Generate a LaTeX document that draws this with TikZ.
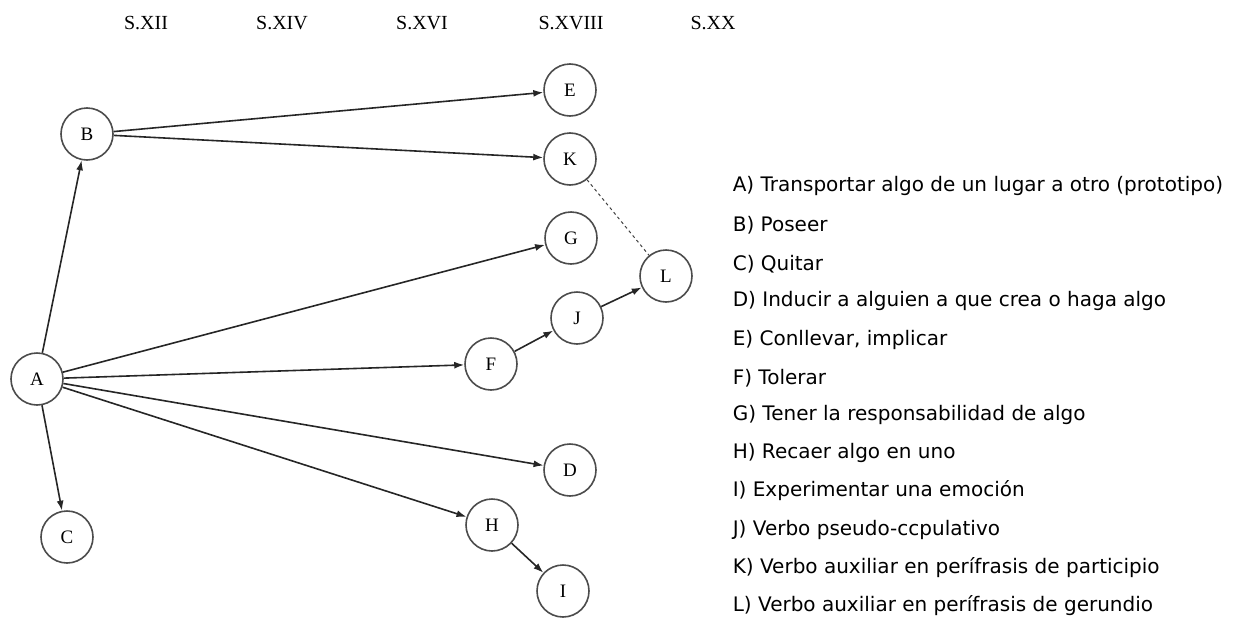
\documentclass[tikz,border=0pt]{standalone}
\usepackage{fontspec}
\setmainfont{Liberation Serif}
\newfontfamily\legendfont{DejaVu Sans}
\usepackage{tikz}
\usetikzlibrary{positioning}
\usetikzlibrary{%
  calc,%
  arrows.meta%
}

\begin{document}
\begin{tikzpicture}[x=1pt, y=-1pt, >={Latex[length=10pt,width=7pt]}, line width=1.6pt,
  every node/.style={inner sep=0pt},
  sense/.style={circle, draw=black!70, minimum size=52pt, font=\fontsize{19}{19}\selectfont},
  siglo/.style={font=\fontsize{20}{20}\selectfont},
  legend/.style={anchor=west, font=\legendfont\fontsize{20}{20}\selectfont},
  link/.style={->, draw=black!85}]
\useasboundingbox (0,0) rectangle (1246,621);
% centuries
\node[siglo] (s12) at (146,23) {S.XII};
\node[siglo] (s14) at (282,23) {S.XIV};
\node[siglo] (s16) at (422,23) {S.XVI};
\node[siglo] (s18) at (571,23) {S.XVIII};
\node[siglo] (s20) at (713,23) {S.XX};
% senses
\node[sense] (A) at (37,379) {A};
\node[sense] (B) at (87,134) {B};
\node[sense] (C) at (67,537) {C};
\node[sense] (E) at (570,90) {E};
\node[sense] (K) at (570,159) {K};
\node[sense] (G) at (571,238) {G};
\node[sense] (L) at (666,276) {L};
\node[sense] (J) at (577,318) {J};
\node[sense] (F) at (491,364) {F};
\node[sense] (D) at (570,470) {D};
\node[sense] (H) at (492,525) {H};
\node[sense] (I) at (563,591) {I};
% links
\draw[link] (A) -- (B);
\draw[link] (A) -- (C);
\draw[link] (A) -- (G);
\draw[link] (A) -- (F);
\draw[link] (A) -- (D);
\draw[link] (A) -- (H);
\draw[link] (B) -- (E);
\draw[link] (B) -- (K);
\draw[link] (F) -- (J);
\draw[link] (J) -- (L);
\draw[link] (H) -- (I);
\draw[dashed, line width=1pt, draw=black!75] (K) -- (L);
% legend
\node[legend] (lA) at (732,186) {A) Transportar algo de un lugar a otro (prototipo)};
\node[legend] (lB) at (732,225) {B) Poseer};
\node[legend] (lC) at (732,264) {C) Quitar};
\node[legend] (lD) at (732,301) {D) Inducir a alguien a que crea o haga algo};
\node[legend] (lE) at (732,340) {E) Conllevar, implicar};
\node[legend] (lF) at (732,378) {F) Tolerar};
\node[legend] (lG) at (732,415) {G) Tener la responsabilidad de algo};
\node[legend] (lH) at (732,453) {H) Recaer algo en uno};
\node[legend] (lI) at (732,491) {I) Experimentar una emoción};
\node[legend] (lJ) at (732,530) {J) Verbo pseudo-ccpulativo};
\node[legend] (lK) at (732,568) {K) Verbo auxiliar en perífrasis de participio};
\node[legend] (lL) at (732,606) {L) Verbo auxiliar en perífrasis de gerundio};
\end{tikzpicture}
\end{document}
